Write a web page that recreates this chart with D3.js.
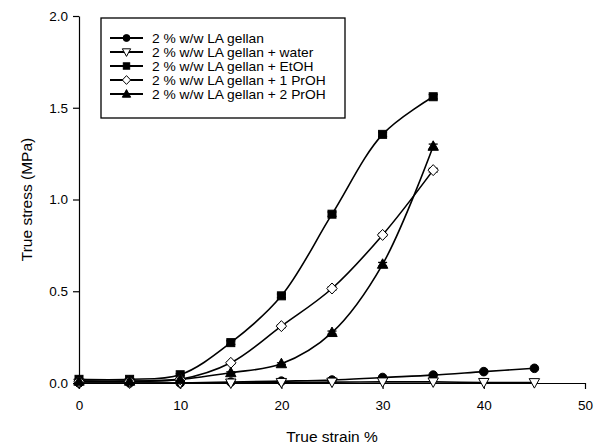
<!DOCTYPE html>
<html>
<head>
<meta charset="utf-8">
<script src="https://cdn.jsdelivr.net/npm/d3@7"></script>
<style>
  body { margin: 0; background: #fff; }
  svg text { font-family: "Liberation Sans", Arial, sans-serif; fill: #000; }
  .axis path, .axis line { stroke: #000; stroke-width: 1.2; }
</style>
</head>
<body>
<div id="chart"></div>
<script>
// data
let strain = [0, 5, 10, 15, 20, 25, 30, 35, 40, 45]
let strainShort = [0, 5, 10, 15, 20, 25, 30, 35]

let gellan = [0.0, 0.0, 0.0, 0.005, 0.01, 0.016, 0.03, 0.043, 0.062, 0.08]
let water = [0.0, 0.0, 0.0, 0.0, 0.003, 0.005, 0.006, 0.006, 0.003, 0.002]
let etoh = [0.02, 0.02, 0.045, 0.22, 0.475, 0.92, 1.355, 1.56]
let prop1 = [0.01, 0.01, 0.02, 0.11, 0.31, 0.515, 0.807, 1.16]
let prop2 = [0.01, 0.01, 0.02, 0.056, 0.105, 0.275, 0.647, 1.29]

let etohErr = [0, 0, 0.005, 0.01, 0.01, 0.012, 0.012, 0.012]
let prop1Err = [0, 0, 0, 0.005, 0.008, 0.008, 0.008, 0.01]
let prop2Err = [0, 0, 0, 0.005, 0.005, 0.008, 0.01, 0.012]

let seriesNames = [
   "2 % w/w LA gellan",
   "2 % w/w LA gellan + water",
   "2 % w/w LA gellan + EtOH",
   "2 % w/w LA gellan + 1 PrOH",
   "2 % w/w LA gellan + 2 PrOH"
]
let xTicks = [0, 10, 20, 30, 40, 50]
let yTicks = [0, 0.5, 1.0, 1.5, 2.0]

let series = [
   { name: seriesNames[0], x: strain, y: gellan, err: null, symbol: "circle", fill: "#000" },
   { name: seriesNames[1], x: strain, y: water, err: null, symbol: "down", fill: "#fff" },
   { name: seriesNames[2], x: strainShort, y: etoh, err: etohErr, symbol: "square", fill: "#000" },
   { name: seriesNames[3], x: strainShort, y: prop1, err: prop1Err, symbol: "diamond", fill: "#fff" },
   { name: seriesNames[4], x: strainShort, y: prop2, err: prop2Err, symbol: "up", fill: "#000" }
]

let margin = { top: 16, right: 17, bottom: 65, left: 79 }
let width = 602 - margin.left - margin.right
let height = 448 - margin.top - margin.bottom

let x = d3.scaleLinear().domain([0, 50]).range([0, width])
let y = d3.scaleLinear().domain([0, 2]).range([height, 0])

let svg = d3.select("#chart").append("svg")
   .attr("width", 602)
   .attr("height", 448)

let g = svg.append("g")
   .attr("transform", "translate(" + margin.left + "," + margin.top + ")")

// axes
let xAxis = g.append("g")
   .attr("class", "x axis")
   .attr("transform", "translate(0," + height + ")")
   .call(d3.axisBottom(x).tickValues(xTicks).tickSize(6).tickSizeOuter(0).tickFormat(d3.format("d")))
xAxis.selectAll("text").attr("font-size", 13.5).attr("y", 17)

let yAxis = g.append("g")
   .attr("class", "y axis")
   .call(d3.axisLeft(y).tickValues(yTicks).tickSize(6).tickSizeOuter(0).tickFormat(d3.format(".1f")))
yAxis.selectAll("text").attr("font-size", 13.5).attr("x", -11)

svg.append("text")
   .attr("x", margin.left + width / 2)
   .attr("y", 442)
   .attr("text-anchor", "middle")
   .attr("font-size", 15.5)
   .text("True strain %")

svg.append("text")
   .attr("transform", "translate(32," + (margin.top + height / 2) + ") rotate(-90)")
   .attr("text-anchor", "middle")
   .attr("font-size", 15.5)
   .text("True stress (MPa)")

// symbols
function drawSymbol(sel, symbol, fill, k) {
   k = k || 1
   let path
   if (symbol === "circle") {
      path = sel.append("circle").attr("r", 4.3 * k)
   } else if (symbol === "square") {
      path = sel.append("rect").attr("x", -4 * k).attr("y", -4 * k).attr("width", 8 * k).attr("height", 8 * k)
   } else if (symbol === "up") {
      path = sel.append("path").attr("d", d3.line()([[0, -5.5 * k], [5.2 * k, 4 * k], [-5.2 * k, 4 * k]]) + "Z")
   } else if (symbol === "down") {
      path = sel.append("path").attr("d", d3.line()([[0, 5.5 * k], [5.2 * k, -4 * k], [-5.2 * k, -4 * k]]) + "Z")
   } else if (symbol === "diamond") {
      path = sel.append("path").attr("d", d3.line()([[0, -5.5 * k], [5.2 * k, 0], [0, 5.5 * k], [-5.2 * k, 0]]) + "Z")
   }
   path.attr("fill", fill).attr("stroke", "#000").attr("stroke-width", 1)
}

let line = d3.line()
   .x(function (d) { return x(d[0]) })
   .y(function (d) { return y(d[1]) })
   .curve(d3.curveCatmullRom.alpha(0.5))

series.forEach(function (s) {
   let pts = s.x.map(function (v, i) { return [v, s.y[i], s.err ? s.err[i] : 0] })

   g.append("path")
      .datum(pts)
      .attr("fill", "none")
      .attr("stroke", "#000")
      .attr("stroke-width", 1.6)
      .attr("d", line)
})

series.forEach(function (s) {
   let pts = s.x.map(function (v, i) { return [v, s.y[i], s.err ? s.err[i] : 0] })

   // error bars with caps
   let eb = g.selectAll(null).data(pts.filter(function (d) { return d[2] > 0 }))
      .join("g")
      .attr("stroke", "#000")
      .attr("stroke-width", 1.3)
   eb.append("line")
      .attr("x1", function (d) { return x(d[0]) }).attr("x2", function (d) { return x(d[0]) })
      .attr("y1", function (d) { return y(d[1] + d[2]) }).attr("y2", function (d) { return y(d[1] - d[2]) })
   eb.append("line")
      .attr("x1", function (d) { return x(d[0]) - 4.5 }).attr("x2", function (d) { return x(d[0]) + 4.5 })
      .attr("y1", function (d) { return y(d[1] + d[2]) }).attr("y2", function (d) { return y(d[1] + d[2]) })
   eb.append("line")
      .attr("x1", function (d) { return x(d[0]) - 4.5 }).attr("x2", function (d) { return x(d[0]) + 4.5 })
      .attr("y1", function (d) { return y(d[1] - d[2]) }).attr("y2", function (d) { return y(d[1] - d[2]) })

   g.selectAll(null).data(pts)
      .join("g")
      .attr("transform", function (d) { return "translate(" + x(d[0]) + "," + y(d[1]) + ")" })
      .each(function () { drawSymbol(d3.select(this), s.symbol, s.fill) })
})

// legend
let legend = svg.append("g").attr("transform", "translate(101,18)")
legend.append("rect")
   .attr("width", 244).attr("height", 100)
   .attr("fill", "#fff").attr("stroke", "#000").attr("stroke-width", 1.3)

series.forEach(function (s, i) {
   let row = legend.append("g").attr("transform", "translate(0," + (20 + i * 14) + ")")
   row.append("line").attr("x1", 9).attr("x2", 42)
      .attr("stroke", "#000").attr("stroke-width", 1.8)
   let sym = row.append("g").attr("transform", "translate(25.5,0)")
   drawSymbol(sym, s.symbol, s.fill, 0.8)
   row.append("text").attr("x", 51).attr("y", 4.5)
      .attr("font-size", 12)
      .attr("transform", "scale(1.15,1)")
      .attr("transform-origin", "51 0")
      .text(s.name)
})
</script>
</body>
</html>
